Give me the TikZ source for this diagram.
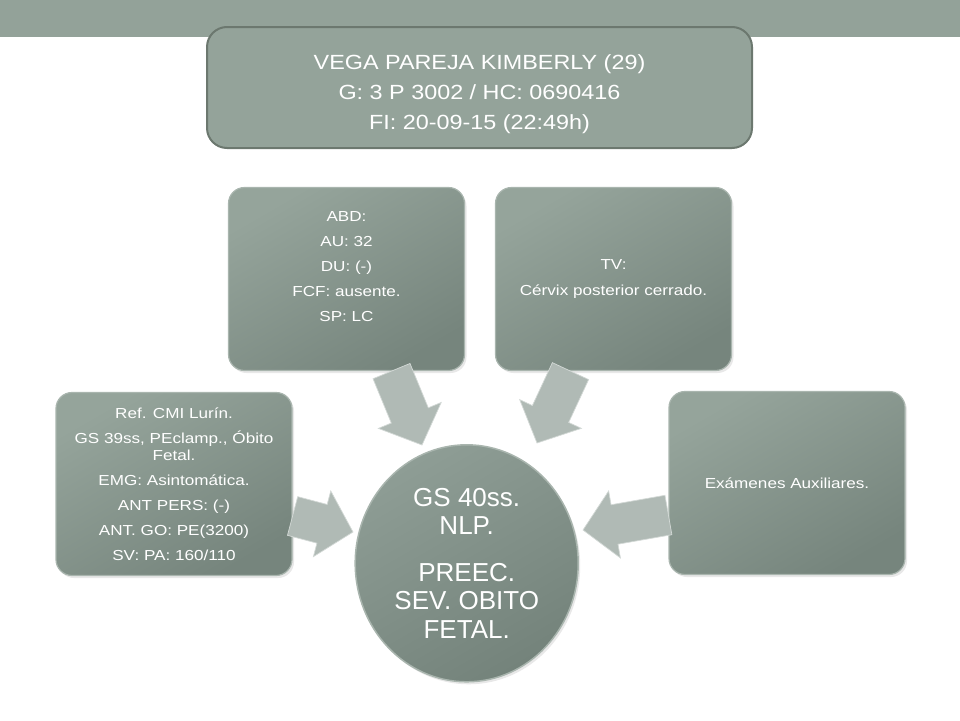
\documentclass[tikz,border=0pt]{standalone}
\usepackage{fontspec}
\setmainfont{Liberation Sans}
\newfontfamily\titlefont{Liberation Sans}[FakeStretch=1.14]
\newfontfamily\boxfont{Liberation Sans}[FakeStretch=1.18]
\usetikzlibrary{calc,shapes.geometric,shadows}
\definecolor{bandc}{HTML}{93A299}
\definecolor{titlec}{HTML}{94A39A}
\definecolor{titlerim}{HTML}{6C786F}
\definecolor{boxtop}{HTML}{95A49B}
\definecolor{boxbot}{HTML}{76857D}
\definecolor{boxrim}{HTML}{A9B5AE}
\definecolor{circtop}{HTML}{8E9D95}
\definecolor{circbot}{HTML}{74837B}
\definecolor{arrowc}{HTML}{B0BAB5}
\definecolor{arrowrim}{HTML}{D3D9D6}
\tikzset{
  titlebox/.style={rectangle, rounded corners=20pt, minimum width=545pt, minimum height=121pt,
    inner sep=0pt, fill=titlec, draw=titlerim, line width=2pt, text=white, align=center,
    font=\titlefont\fontsize{20.5}{30}\selectfont},
  infobox/.style={rectangle, rounded corners=16pt, minimum width=236pt, minimum height=183pt,
    inner sep=0pt, top color=boxtop, bottom color=boxbot, shading angle=30,
    draw=boxrim, line width=1.2pt, text=white, align=center,
    font=\boxfont\fontsize{14.5}{17}\selectfont,
    drop shadow={shadow xshift=2pt, shadow yshift=-2.5pt, opacity=0.18}},
  centrenode/.style={ellipse, minimum width=223pt, minimum height=237pt, inner sep=0pt,
    top color=circtop, bottom color=circbot, shading angle=30,
    draw=boxrim, line width=1.5pt, text=white, align=center,
    font=\fontsize{26}{28.5}\selectfont,
    drop shadow={shadow xshift=2pt, shadow yshift=-2.5pt, opacity=0.18}},
  blockarrow/.style={fill=arrowc, draw=arrowrim, line width=0.7pt, line join=miter}
}
\newcommand\blockarr[2]{%
  \coordinate (#1-base) at ($(#2)!32pt!(#1)$);
  \path[blockarrow] ($(#1)!20pt!90:(#2)$) -- ($(#1-base)!20pt!90:(#2)$)
    -- ($(#1-base)!34pt!90:(#2)$) -- (#2) -- ($(#1-base)!34pt!-90:(#2)$)
    -- ($(#1-base)!20pt!-90:(#2)$) -- ($(#1)!20pt!-90:(#2)$) -- cycle;
}
\begin{document}
\begin{tikzpicture}[x=1pt, y=-1pt]
\useasboundingbox (0,0) rectangle (960,720);
\fill[bandc] (0,0) rectangle (960,37);

\node[titlebox] (title) at (479.5,87.5) {\rule{0pt}{28pt}VEGA PAREJA KIMBERLY (29)\\G: 3 P 3002 / HC: 0690416\\FI: 20-09-15 (22:49h)};

\node[infobox] (left) at (174,484) {Ref. CMI Lurín.\\[8pt]GS 39ss, PEclamp., Óbito\\Fetal.\\[8pt]EMG: Asintomática.\\[8pt]ANT PERS: (-)\\[8pt]ANT. GO: PE(3200)\\[8pt]SV: PA: 160/110};
\node[infobox] (abd) at (346.5,279) {ABD:\\[8pt]AU: 32\\[8pt]DU: (-)\\[8pt]FCF: ausente.\\[8pt]SP: LC\\[8pt]\mbox{}};
\node[infobox] (tv) at (613.5,279) {TV:\\[9pt]Cérvix posterior cerrado.};
\node[infobox] (aux) at (787,483) {Exámenes Auxiliares.};

\node[centrenode] (circ) at (466.7,563.3) {GS 40ss.\\NLP.\\[18pt]PREEC.\\SEV. OBITO\\FETAL.};

\coordinate (s1) at ([yshift=-32pt]left.east);
\coordinate (t1) at ([shift={(-113.7,-31.3)}]circ.center);
\coordinate (s2) at ([xshift=45pt]abd.south);
\coordinate (t2) at ([shift={(-44.7,-118.3)}]circ.center);
\coordinate (s3) at ([xshift=-43pt]tv.south);
\coordinate (t3) at ([shift={(70.3,-120.3)}]circ.center);
\coordinate (s4) at ([yshift=-32pt]aux.west);
\coordinate (t4) at ([shift={(116.3,-33.3)}]circ.center);

\blockarr{s1}{t1}
\blockarr{s2}{t2}
\blockarr{s3}{t3}
\blockarr{s4}{t4}
\end{tikzpicture}
\end{document}
